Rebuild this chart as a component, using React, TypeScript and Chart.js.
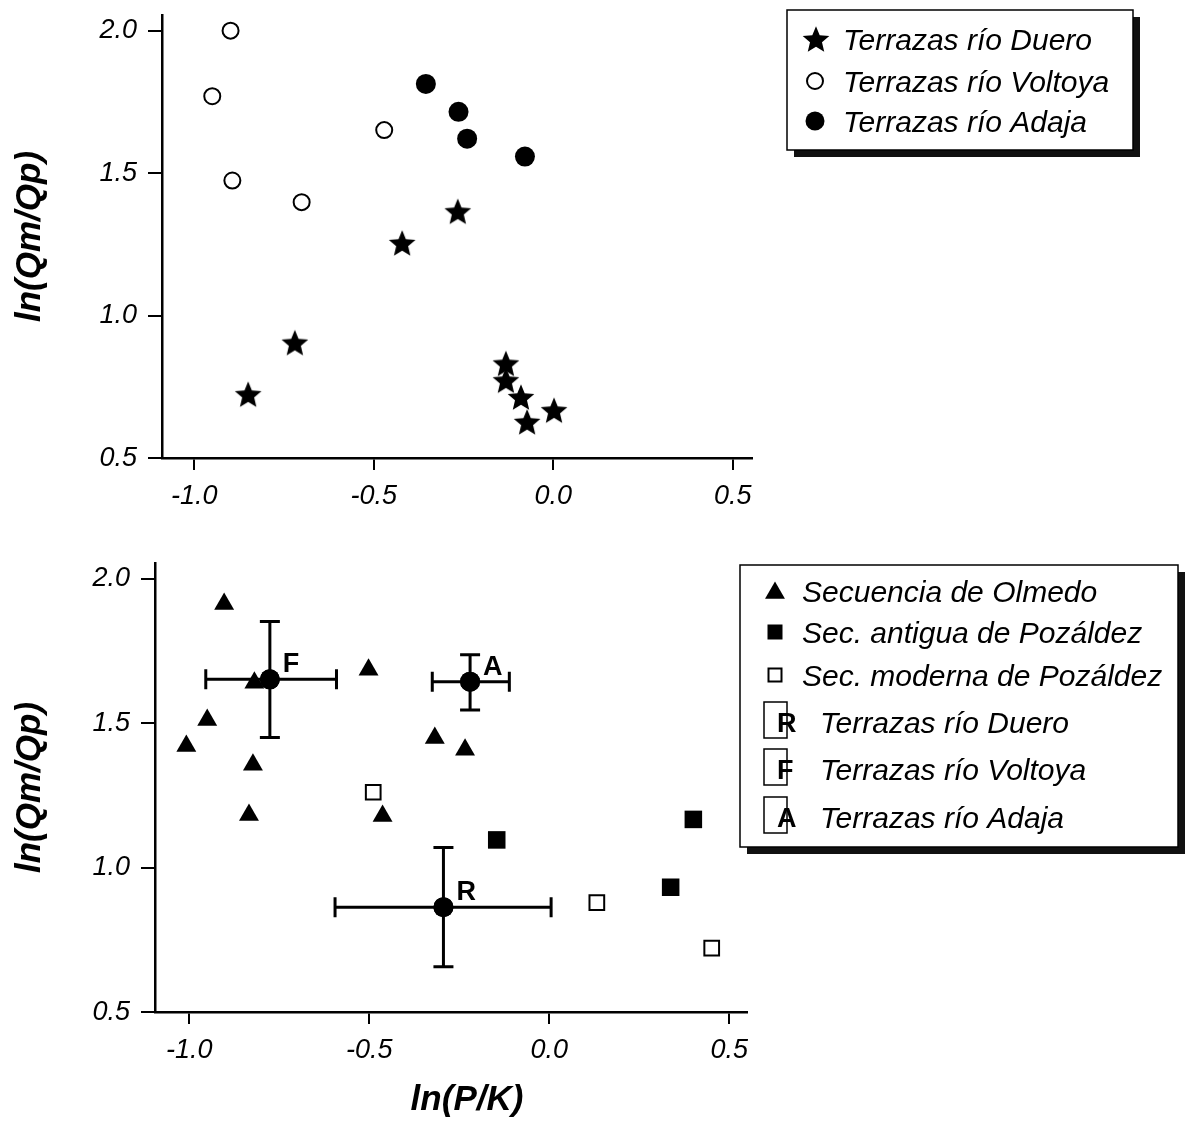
import React, { useEffect, useRef } from 'react';
import { Chart, registerables } from 'chart.js';

Chart.register(...registerables);

const FONT = '"Liberation Sans", Arial, Helvetica, sans-serif';

// ---------- shared axes ----------
const xTicks = [-1.0, -0.5, 0.0, 0.5];
const yTicks = [0.5, 1.0, 1.5, 2.0];
const xTitle = 'ln(P/K)';
const yTitle = 'ln(Qm/Qp)';

// ---------- top panel ----------
const topLegendLabels = ['Terrazas río Duero', 'Terrazas río Voltoya', 'Terrazas río Adaja'];
const dueroX = [-0.850, -0.720, -0.421, -0.266, -0.132, -0.132, -0.090, -0.073, 0.002];
const dueroY = [0.724, 0.905, 1.255, 1.366, 0.832, 0.773, 0.714, 0.627, 0.668];
const voltoyaX = [-0.899, -0.950, -0.894, -0.701, -0.471];
const voltoyaY = [2.000, 1.770, 1.474, 1.398, 1.651];
const adajaX = [-0.355, -0.264, -0.240, -0.079];
const adajaY = [1.813, 1.715, 1.621, 1.558];

// ---------- bottom panel ----------
const bottomLegendLabels = [
  'Secuencia de Olmedo',
  'Sec. antigua de Pozáldez',
  'Sec. moderna de Pozáldez',
  'Terrazas río Duero',
  'Terrazas río Voltoya',
  'Terrazas río Adaja',
];
const olmedoX = [-0.903, -0.819, -0.950, -1.008, -0.823, -0.834, -0.502, -0.463, -0.318, -0.234];
const olmedoY = [1.913, 1.640, 1.511, 1.421, 1.356, 1.182, 1.685, 1.179, 1.449, 1.408];
const antiguaX = [-0.146, 0.400, 0.337];
const antiguaY = [1.096, 1.167, 0.932];
const modernaX = [-0.489, 0.132, 0.451];
const modernaY = [1.261, 0.879, 0.721];
const terraceCodes = ['R', 'F', 'A'];
const terraceX = [-0.294, -0.776, -0.220];
const terraceY = [0.863, 1.652, 1.644];
const terraceXLow = [-0.595, -0.954, -0.325];
const terraceXHigh = [0.005, -0.591, -0.111];
const terraceYLow = [0.657, 1.451, 1.546];
const terraceYHigh = [1.070, 1.852, 1.737];

const pts = (xs: number[], ys: number[]) => xs.map((x, i) => ({ x, y: ys[i] }));

function makeStar(r: number): HTMLCanvasElement {
  const size = Math.ceil(r * 2 + 4);
  const c = document.createElement('canvas');
  c.width = size;
  c.height = size;
  const ctx = c.getContext('2d')!;
  const cx = size / 2;
  const cy = size / 2 + r * 0.095;
  ctx.beginPath();
  for (let i = 0; i < 10; i++) {
    const rr = i % 2 === 0 ? r : r * 0.45;
    const a = -Math.PI / 2 + (i * Math.PI) / 5;
    const px = cx + rr * Math.cos(a);
    const py = cy + rr * Math.sin(a);
    if (i === 0) ctx.moveTo(px, py);
    else ctx.lineTo(px, py);
  }
  ctx.closePath();
  ctx.fillStyle = '#000';
  ctx.fill();
  return c;
}

type Sym = (ctx: CanvasRenderingContext2D, x: number, y: number) => void;

function buildScales(o: { xMin: number; xMax: number; yMax: number; yWidth: number; xHeight: number }) {
  const tickFont = { family: FONT, size: 27, style: 'italic' as const };
  const zeroPad = (s: any) => {
    s.paddingLeft = 0;
    s.paddingRight = 0;
    s.paddingTop = 0;
    s.paddingBottom = 0;
  };
  return {
    x: {
      type: 'linear' as const,
      min: o.xMin,
      max: o.xMax,
      afterBuildTicks: (s: any) => {
        s.ticks = xTicks.map((v) => ({ value: v }));
      },
      afterFit: (s: any) => {
        s.height = o.xHeight;
        zeroPad(s);
      },
      grid: { drawOnChartArea: false, drawTicks: true, tickLength: 12, color: '#000', lineWidth: 2 },
      border: { display: true, color: '#000', width: 2.5 },
      ticks: {
        color: '#000',
        font: tickFont,
        padding: 10,
        maxRotation: 0,
        autoSkip: false,
        callback: (v: any) => Number(v).toFixed(1),
      },
    },
    y: {
      type: 'linear' as const,
      min: 0.5,
      max: o.yMax,
      afterBuildTicks: (s: any) => {
        s.ticks = yTicks.map((v) => ({ value: v }));
      },
      afterFit: (s: any) => {
        s.width = o.yWidth;
        zeroPad(s);
      },
      grid: { drawOnChartArea: false, drawTicks: true, tickLength: 14, color: '#000', lineWidth: 2 },
      border: { display: true, color: '#000', width: 2.5 },
      ticks: {
        color: '#000',
        font: tickFont,
        padding: 11,
        autoSkip: false,
        callback: (v: any) => Number(v).toFixed(1),
      },
      title: {
        display: true,
        text: yTitle,
        color: '#000',
        font: { family: FONT, size: 35, weight: 'bold' as const, style: 'italic' as const },
        padding: { top: 9, bottom: 0 },
      },
    },
  };
}

function legendPlugin(
  id: string,
  box: { x: number; y: number; w: number; h: number },
  rows: { label: string; y: number; textX: number; sym: Sym }[]
) {
  return {
    id,
    afterDraw(chart: any) {
      const ctx: CanvasRenderingContext2D = chart.ctx;
      ctx.save();
      ctx.fillStyle = '#111';
      ctx.fillRect(box.x + 7, box.y + 7, box.w, box.h);
      ctx.fillStyle = '#fff';
      ctx.fillRect(box.x, box.y, box.w, box.h);
      ctx.strokeStyle = '#000';
      ctx.lineWidth = 1.5;
      ctx.strokeRect(box.x, box.y, box.w, box.h);
      rows.forEach((r) => {
        ctx.save();
        r.sym(ctx, 0, r.y);
        ctx.restore();
        ctx.fillStyle = '#000';
        ctx.font = `italic 30px ${FONT}`;
        ctx.textAlign = 'left';
        ctx.textBaseline = 'alphabetic';
        ctx.fillText(r.label, r.textX, r.y + 11);
      });
      ctx.restore();
    },
  };
}

function circleSym(cx: number, r: number, filled: boolean): Sym {
  return (ctx, _x, y) => {
    ctx.beginPath();
    ctx.arc(cx, y, r, 0, Math.PI * 2);
    if (filled) {
      ctx.fillStyle = '#000';
      ctx.fill();
    } else {
      ctx.fillStyle = '#fff';
      ctx.fill();
      ctx.strokeStyle = '#000';
      ctx.lineWidth = 2;
      ctx.stroke();
    }
  };
}

function triangleSym(cx: number, r: number): Sym {
  return (ctx, _x, y) => {
    const cy = y + 2;
    ctx.beginPath();
    for (let i = 0; i < 3; i++) {
      const a = (i * 2 * Math.PI) / 3;
      const px = cx + Math.sin(a) * r;
      const py = cy - Math.cos(a) * r;
      if (i === 0) ctx.moveTo(px, py);
      else ctx.lineTo(px, py);
    }
    ctx.closePath();
    ctx.fillStyle = '#000';
    ctx.fill();
  };
}

function squareSym(cx: number, side: number, filled: boolean): Sym {
  return (ctx, _x, y) => {
    if (filled) {
      ctx.fillStyle = '#000';
      ctx.fillRect(cx - side / 2, y - side / 2, side, side);
    } else {
      ctx.fillStyle = '#fff';
      ctx.fillRect(cx - side / 2, y - side / 2, side, side);
      ctx.strokeStyle = '#000';
      ctx.lineWidth = 2;
      ctx.strokeRect(cx - side / 2, y - side / 2, side, side);
    }
  };
}

function letterSym(left: number, letter: string): Sym {
  return (ctx, _x, y) => {
    ctx.strokeStyle = '#000';
    ctx.lineWidth = 1.5;
    ctx.strokeRect(left, y - 20, 23, 36);
    ctx.fillStyle = '#000';
    ctx.font = `bold 27px ${FONT}`;
    ctx.textAlign = 'left';
    ctx.textBaseline = 'alphabetic';
    ctx.fillText(letter, left + 13, y + 10);
  };
}

export default function App() {
  const topRef = useRef<HTMLCanvasElement | null>(null);
  const botRef = useRef<HTMLCanvasElement | null>(null);

  useEffect(() => {
    const star = makeStar(14);

    // ---------- top chart ----------
    const topChart = new Chart(topRef.current!, {
      type: 'scatter',
      data: {
        datasets: [
          {
            label: topLegendLabels[0],
            data: pts(dueroX, dueroY),
            pointStyle: star as any,
            pointRadius: 14,
          },
          {
            label: topLegendLabels[1],
            data: pts(voltoyaX, voltoyaY),
            pointStyle: 'circle',
            pointRadius: 8,
            pointBorderWidth: 2,
            pointBackgroundColor: '#fff',
            pointBorderColor: '#000',
          },
          {
            label: topLegendLabels[2],
            data: pts(adajaX, adajaY),
            pointStyle: 'circle',
            pointRadius: 10,
            pointBorderWidth: 0,
            pointBackgroundColor: '#000',
            pointBorderColor: '#000',
          },
        ],
      },
      options: {
        responsive: false,
        animation: false,
        events: [],
        devicePixelRatio: 1,
        layout: { padding: { top: 11, right: 435, left: 0, bottom: 0 } },
        scales: buildScales({ xMin: -1.09, xMax: 0.5535, yMax: 2.055, yWidth: 162, xHeight: 87 }) as any,
        plugins: { legend: { display: false }, tooltip: { enabled: false } },
      },
      plugins: [
        legendPlugin('topLegend', { x: 787, y: 10, w: 346, h: 140 }, [
          {
            label: topLegendLabels[0],
            y: 39,
            textX: 843,
            sym: (ctx, _x, y) => ctx.drawImage(star, 816 - star.width / 2, y - star.height / 2),
          },
          { label: topLegendLabels[1], y: 81, textX: 843, sym: circleSym(815, 8, false) },
          { label: topLegendLabels[2], y: 121, textX: 843, sym: circleSym(815, 9.5, true) },
        ]),
      ],
    });

    // ---------- bottom chart ----------
    const errorBars = {
      id: 'errorBars',
      afterDatasetsDraw(chart: any) {
        const ctx: CanvasRenderingContext2D = chart.ctx;
        const xs = chart.scales.x;
        const ys = chart.scales.y;
        ctx.save();
        ctx.strokeStyle = '#000';
        ctx.lineWidth = 3;
        const cap = 10;
        terraceCodes.forEach((code, i) => {
          const cx = xs.getPixelForValue(terraceX[i]);
          const cy = ys.getPixelForValue(terraceY[i]);
          const xl = xs.getPixelForValue(terraceXLow[i]);
          const xh = xs.getPixelForValue(terraceXHigh[i]);
          const yl = ys.getPixelForValue(terraceYLow[i]);
          const yh = ys.getPixelForValue(terraceYHigh[i]);
          ctx.beginPath();
          ctx.moveTo(xl, cy);
          ctx.lineTo(xh, cy);
          ctx.moveTo(xl, cy - cap);
          ctx.lineTo(xl, cy + cap);
          ctx.moveTo(xh, cy - cap);
          ctx.lineTo(xh, cy + cap);
          ctx.moveTo(cx, yl);
          ctx.lineTo(cx, yh);
          ctx.moveTo(cx - cap, yl);
          ctx.lineTo(cx + cap, yl);
          ctx.moveTo(cx - cap, yh);
          ctx.lineTo(cx + cap, yh);
          ctx.stroke();
          ctx.beginPath();
          ctx.arc(cx, cy, 10, 0, Math.PI * 2);
          ctx.fillStyle = '#000';
          ctx.fill();
          ctx.font = `bold 27px ${FONT}`;
          ctx.textAlign = 'left';
          ctx.textBaseline = 'alphabetic';
          ctx.fillText(code, cx + 13, cy - 7);
        });
        ctx.restore();
      },
    };

    const xTitlePlugin = {
      id: 'xTitle',
      afterDraw(chart: any) {
        const ctx: CanvasRenderingContext2D = chart.ctx;
        const a = chart.chartArea;
        ctx.save();
        ctx.fillStyle = '#000';
        ctx.font = `italic bold 35px ${FONT}`;
        ctx.textAlign = 'center';
        ctx.textBaseline = 'middle';
        ctx.fillText(xTitle, (a.left + a.right) / 2 + 16, 555);
        ctx.restore();
      },
    };

    const botChart = new Chart(botRef.current!, {
      type: 'scatter',
      data: {
        datasets: [
          {
            label: bottomLegendLabels[0],
            data: pts(olmedoX, olmedoY),
            pointStyle: 'triangle',
            pointRadius: 11.5,
            pointBorderWidth: 0,
            pointBackgroundColor: '#000',
            pointBorderColor: '#000',
          },
          {
            label: bottomLegendLabels[1],
            data: pts(antiguaX, antiguaY),
            pointStyle: 'rect',
            pointRadius: 12.4,
            pointBorderWidth: 0,
            pointBackgroundColor: '#000',
            pointBorderColor: '#000',
          },
          {
            label: bottomLegendLabels[2],
            data: pts(modernaX, modernaY),
            pointStyle: 'rect',
            pointRadius: 10.4,
            pointBorderWidth: 2,
            pointBackgroundColor: '#fff',
            pointBorderColor: '#000',
          },
          {
            label: 'Terrazas',
            data: pts(terraceX, terraceY),
            pointStyle: 'circle',
            pointRadius: 10,
            pointBorderWidth: 0,
            pointBackgroundColor: '#000',
            pointBorderColor: '#000',
          },
        ],
      },
      options: {
        responsive: false,
        animation: false,
        events: [],
        devicePixelRatio: 1,
        layout: { padding: { top: 18, right: 440, left: 0, bottom: 0 } },
        scales: buildScales({ xMin: -1.095, xMax: 0.549, yMax: 2.055, yWidth: 155, xHeight: 114 }) as any,
        plugins: { legend: { display: false }, tooltip: { enabled: false } },
      },
      plugins: [
        errorBars,
        xTitlePlugin,
        legendPlugin('botLegend', { x: 740, y: 20, w: 438, h: 282 }, [
          { label: bottomLegendLabels[0], y: 46, textX: 802, sym: triangleSym(775, 11.5) },
          { label: bottomLegendLabels[1], y: 87, textX: 802, sym: squareSym(775, 15, true) },
          { label: bottomLegendLabels[2], y: 130, textX: 802, sym: squareSym(775, 13, false) },
          { label: bottomLegendLabels[3], y: 177, textX: 820, sym: letterSym(764, terraceCodes[0]) },
          { label: bottomLegendLabels[4], y: 224, textX: 820, sym: letterSym(764, terraceCodes[1]) },
          { label: bottomLegendLabels[5], y: 272, textX: 820, sym: letterSym(764, terraceCodes[2]) },
        ]),
      ],
    });

    return () => {
      topChart.destroy();
      botChart.destroy();
    };
  }, []);

  return (
    <div style={{ position: 'absolute', left: 0, top: 0, width: 1187, height: 1126, background: '#fff' }}>
      <canvas
        ref={topRef}
        width={1187}
        height={545}
        style={{ position: 'absolute', left: 0, top: 0, width: 1187, height: 545 }}
      />
      <canvas
        ref={botRef}
        width={1187}
        height={581}
        style={{ position: 'absolute', left: 0, top: 545, width: 1187, height: 581 }}
      />
    </div>
  );
}
